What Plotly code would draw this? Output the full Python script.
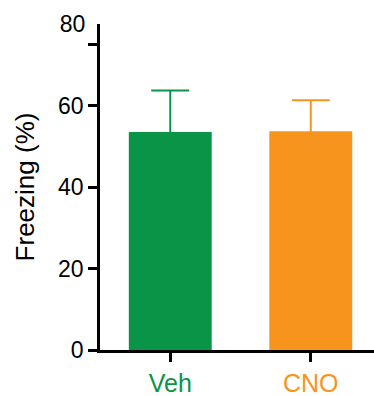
import plotly.graph_objects as go

# Freezing behaviour by treatment group (mean and SEM)
groups = ["Veh", "CNO"]
freezing_mean = [53.5, 53.7]
freezing_sem = [10.2, 7.6]
bar_colors = ["#0A9447", "#F7941D"]

y_tick_vals = [0, 20, 40, 60, 75]
y_tick_text = ["0", "20", "40", "60", ""]

FONT = "Liberation Sans, Arial, sans-serif"

fig = go.Figure()
for name, m, s, c in zip(groups, freezing_mean, freezing_sem, bar_colors):
    # symmetric SEM: the lower half sits inside the bar in the bar's own colour
    fig.add_trace(go.Bar(
        x=[name], y=[m],
        marker=dict(color=c, line=dict(width=0)),
        width=0.59,
        error_y=dict(type="data", symmetric=True, array=[s],
                     color=c, thickness=2, width=19),
        showlegend=False,
    ))

# label at the top of the value axis (drawn without a tick mark)
fig.add_trace(go.Scatter(x=[groups[0]], y=[80], yaxis="y2", mode="markers",
                         marker=dict(opacity=0), showlegend=False, hoverinfo="skip"))

fig.update_layout(
    width=374, height=396,
    margin=dict(l=100, r=0, t=24, b=46),
    paper_bgcolor="white", plot_bgcolor="white",
    font=dict(family=FONT, color="black"),
    xaxis=dict(
        range=[-0.5, 1.45],
        showline=True, linecolor="black", linewidth=2.5,
        ticks="outside", ticklen=9, tickwidth=2.5, tickcolor="black",
        tickfont=dict(size=25),
        showgrid=False, zeroline=False,
    ),
    yaxis=dict(
        range=[0, 80],
        tickvals=y_tick_vals, ticktext=y_tick_text,
        showline=True, linecolor="black", linewidth=2.5,
        ticks="outside", ticklen=9, tickwidth=2.5, tickcolor="black",
        tickfont=dict(size=23),
        title=dict(text="Freezing (%)", font=dict(size=26), standoff=16),
        showgrid=False, zeroline=False,
    ),
    yaxis2=dict(
        range=[0, 80], overlaying="y", side="left",
        tickvals=[80], ticktext=["80"], ticks="outside", ticklen=9,
        tickcolor="rgba(0,0,0,0)", tickfont=dict(size=23),
        showline=False, showgrid=False, zeroline=False,
    ),
)

# colour each category label to match its bar
fig.update_xaxes(tickvals=groups, ticktext=[
    f'<span style="color:{c}">{g}</span>' for g, c in zip(groups, bar_colors)
])

fig.write_html("out.html")
